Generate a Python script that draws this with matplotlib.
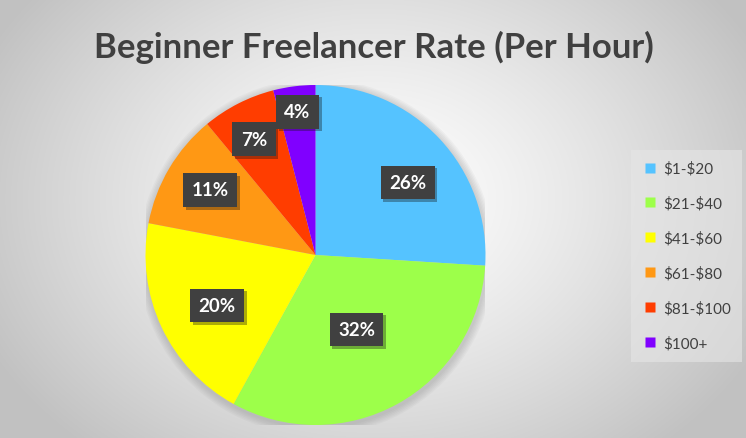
import numpy as np
import matplotlib.pyplot as plt
import matplotlib.patheffects as pe

title = 'Beginner Freelancer Rate (Per Hour)'
categories = [r'\$1-\$20', r'\$21-\$40', r'\$41-\$60', r'\$61-\$80', r'\$81-\$100', r'\$100+']
shares = [26, 32, 20, 11, 7, 4]
colors = ['#55C3FF', '#9DFF4A', '#FFFF00', '#FF9814', '#FF3D00', '#8000FF']

# label placement: fraction of radius and angle shift (deg) from slice middle
label_r = [0.69, 0.50, 0.65, 0.73, 0.77, 0.85]
label_shift = [-5, 0, 2, -1, 1, 0]

fig = plt.figure(figsize=(7.46, 4.39), dpi=100)

# radial gradient background
bg = fig.add_axes([0, 0, 1, 1])
bg.set_axis_off()
yy, xx = np.mgrid[0:439, 0:746]
d = np.sqrt(((xx - 373) / 430.0) ** 2 + ((yy - 200) / 330.0) ** 2)
d = np.clip(d, 0, 1)
shade = 1.0 - 0.24 * d ** 1.3
bg.imshow(np.dstack([shade, shade, shade]), extent=[0, 746, 439, 0], aspect='auto')
bg.set_xlim(0, 746)
bg.set_ylim(439, 0)

fig.text(0.5015, 0.893, title, ha='center', va='center', fontsize=25,
         fontweight='bold', color='#404040', family='Lato')

cx, cy, rad = 315.5, 256, 170
ax = fig.add_axes([(cx - rad) / 746, (439 - cy - rad) / 439, 2 * rad / 746, 2 * rad / 439])
ax.set_axis_off()

# soft shadow under the pie
for k in range(6):
    ax.add_patch(plt.Circle((0.005, -0.012), 1.0 + 0.008 * (k + 1), color='#808080',
                            alpha=0.06, lw=0, zorder=0))

wedges, _ = ax.pie(shares, colors=colors, startangle=90, counterclock=False,
                   radius=1, wedgeprops=dict(linewidth=0))
for w in wedges:
    w.set_zorder(2)
ax.set_xlim(-1, 1)
ax.set_ylim(-1, 1)

for w, v, r, s in zip(wedges, shares, label_r, label_shift):
    ang = np.deg2rad((w.theta1 + w.theta2) / 2 + s)
    ax.text(r * np.cos(ang), r * np.sin(ang), f'{v}%', ha='center', va='center',
            fontsize=13.5, fontweight='bold', color='white', family='Lato', zorder=5,
            bbox=dict(boxstyle='square,pad=0.45', fc='#404040', ec='none',
                      path_effects=[pe.SimplePatchShadow(offset=(2, -2), alpha=0.35),
                                    pe.Normal()]))

# legend
leg_ax = fig.add_axes([0, 0, 1, 1], facecolor='none')
leg_ax.set_axis_off()
leg_ax.set_xlim(0, 746)
leg_ax.set_ylim(439, 0)
handles = [plt.Line2D([], [], marker='s', linestyle='none', markersize=7.5,
                      markerfacecolor=c, markeredgecolor='none') for c in colors]
leg = leg_ax.legend(handles, categories, loc='upper left',
                    bbox_to_anchor=(631 / 746, 1 - 151 / 439), borderaxespad=0,
                    frameon=True, fancybox=False, labelcolor='#404040',
                    handletextpad=0.35, labelspacing=1.33, borderpad=0.75,
                    handlelength=1.0, prop=dict(family='Lato', size=11))
leg.get_frame().set_facecolor('#e6e6e6')
leg.get_frame().set_alpha(0.6)
leg.get_frame().set_edgecolor('none')

fig.savefig('out.png', dpi=100)
